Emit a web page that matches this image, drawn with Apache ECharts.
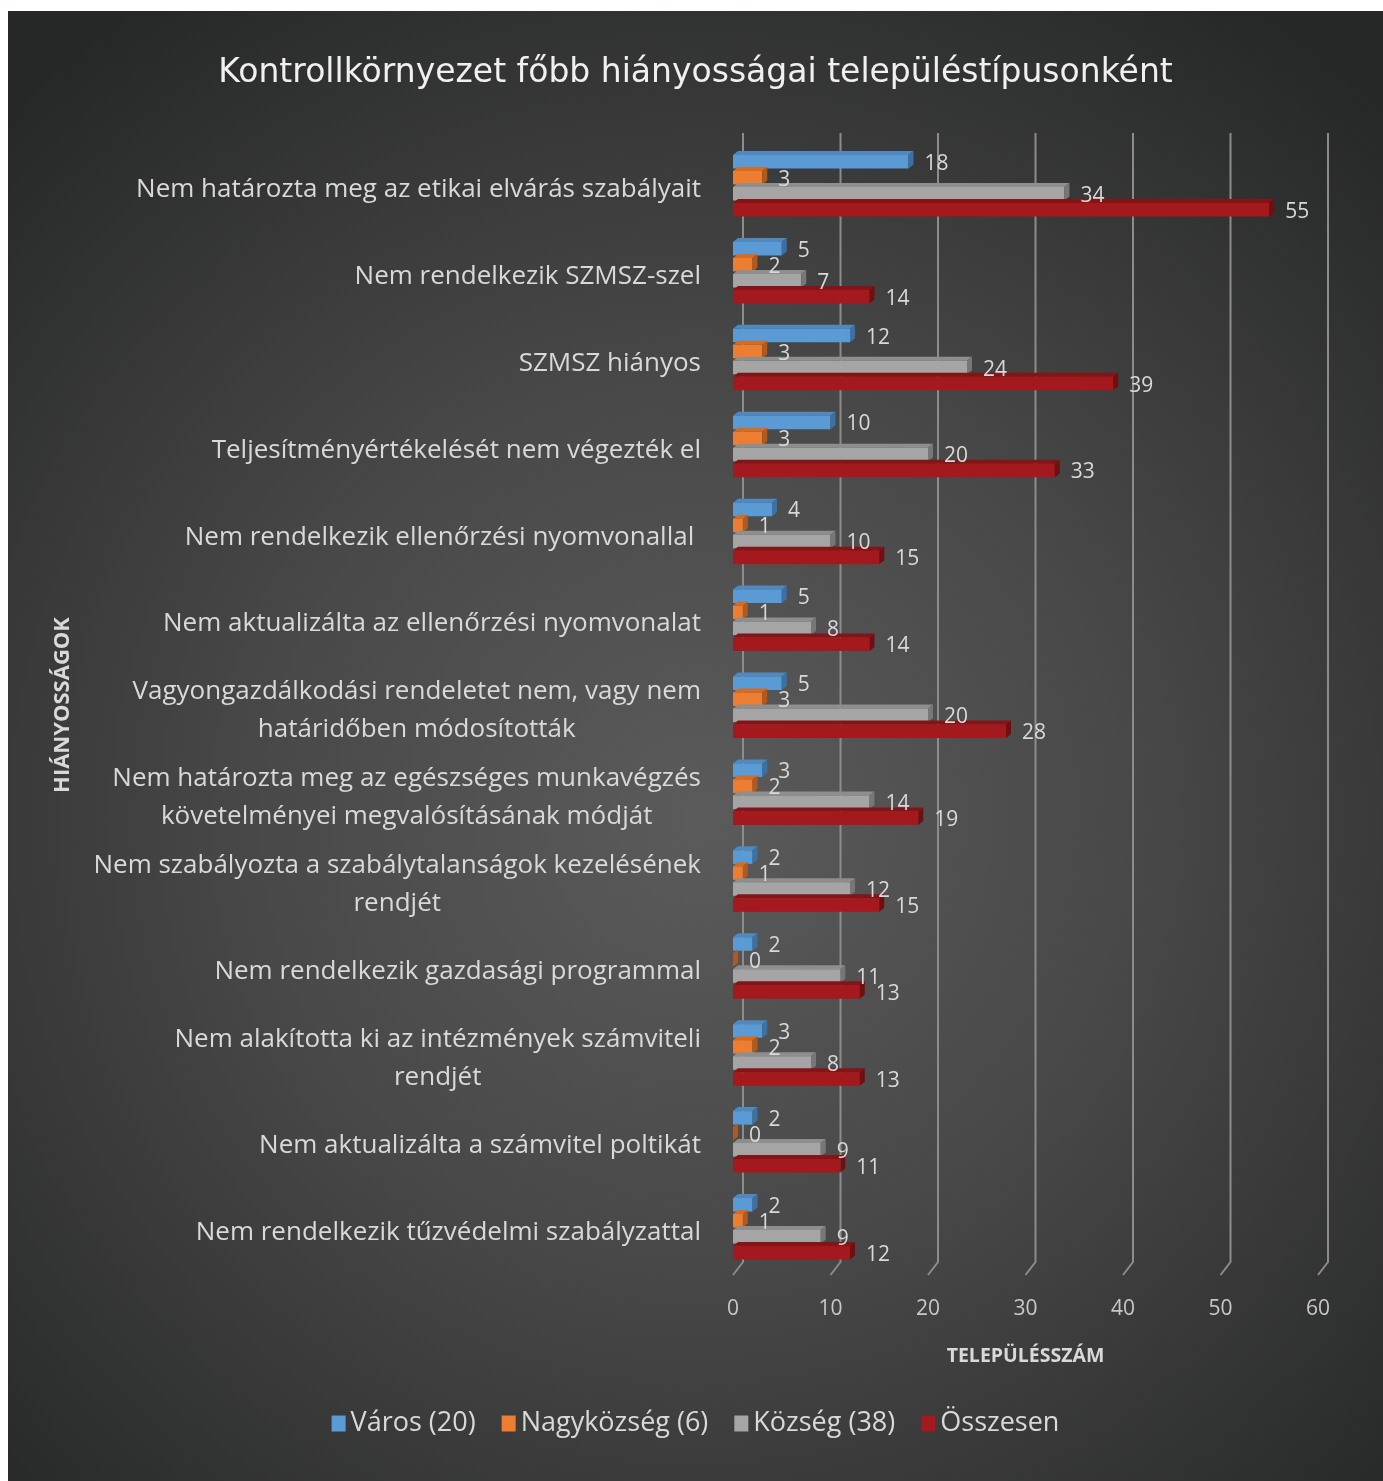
<!DOCTYPE html>
<html>
<head>
<meta charset="utf-8">
<script src="https://cdn.jsdelivr.net/npm/echarts@6/dist/echarts.min.js"></script>
<style>
  html, body { margin: 0; padding: 0; background: #ffffff; }
  #chart { position: absolute; left: 8px; top: 11px; width: 1375px; height: 1470px; }
</style>
</head>
<body>
<div id="chart"></div>
<script>
// Categories, top to bottom
const categories = [
  'Nem határozta meg az etikai elvárás szabályait',
  'Nem rendelkezik SZMSZ-szel',
  'SZMSZ hiányos',
  'Teljesítményértékelését nem végezték el',
  'Nem rendelkezik ellenőrzési nyomvonallal ',
  'Nem aktualizálta az ellenőrzési nyomvonalat',
  'Vagyongazdálkodási rendeletet nem, vagy nem\nhatáridőben módosították',
  'Nem határozta meg az egészséges munkavégzés\nkövetelményei megvalósításának módját',
  'Nem szabályozta a szabálytalanságok kezelésének\nrendjét',
  'Nem rendelkezik gazdasági programmal',
  'Nem alakította ki az intézmények számviteli\nrendjét',
  'Nem aktualizálta a számvitel poltikát',
  'Nem rendelkezik tűzvédelmi szabályzattal'
];

// Number of settlements per type
const varos      = [18, 5, 12, 10, 4, 5, 5, 3, 2, 2, 3, 2, 2];
const nagykozseg = [3, 2, 3, 3, 1, 1, 3, 2, 1, 0, 2, 0, 1];
const kozseg     = [34, 7, 24, 20, 10, 8, 20, 14, 12, 11, 8, 9, 9];
const osszesen   = [55, 14, 39, 33, 15, 14, 28, 19, 15, 13, 13, 11, 12];

const seriesNames = ['Város (20)', 'Nagyközség (6)', 'Község (38)', 'Összesen'];
const xTicks = [0, 10, 20, 30, 40, 50, 60];

const FONT = '"Open Sans", sans-serif';

// Face colours of the extruded bars: front, top, side
const faces = [
  { front: '#5b9bd5', top: '#4f89c0', side: '#3d71a3' },
  { front: '#ed7d31', top: '#d46c26', side: '#b4591c' },
  { front: '#a5a5a5', top: '#8e8e8e', side: '#777777' },
  { front: '#a3191d', top: '#861316', side: '#6e0f12' }
];

// Draws one bar of a group as a small 3D box with its value label
function barRenderer(slot, f) {
  return function (params, api) {
    const v = api.value(0);
    const ci = api.value(1);
    const start = api.coord([0, ci]);
    const end = api.coord([v, ci]);
    const pitch = 16;
    const slotTop = start[1] - 2 * pitch + slot * pitch;
    const ft = slotTop + 3.5;
    const fb = slotTop + 17;
    const x0 = start[0];
    const x1 = end[0];
    const dx = 5, dy = 4;
    return {
      type: 'group',
      children: [
        { type: 'polygon', shape: { points: [[x0, ft], [x1, ft], [x1 + dx, ft - dy], [x0 + dx, ft - dy]] }, style: { fill: f.top } },
        { type: 'rect', shape: { x: x0, y: ft, width: x1 - x0, height: fb - ft }, style: { fill: f.front } },
        { type: 'polygon', shape: { points: [[x1, ft], [x1 + dx, ft - dy], [x1 + dx, fb - dy], [x1, fb]] }, style: { fill: f.side } },
        {
          type: 'text', z2: 100, x: x1 + dx + 11, y: (ft + fb) / 2 + 2,
          style: { text: String(v), fill: '#d9d9d9', font: '21px ' + FONT, align: 'left', verticalAlign: 'middle' }
        }
      ]
    };
  };
}

// Back-wall grid lines with a short slanted foot towards the floor
function gridRenderer(params, api) {
  const cs = params.coordSys;
  const x = api.coord([api.value(0), 0])[0];
  const bottom = cs.y + cs.height;
  return {
    type: 'polyline',
    shape: { points: [[x + 10, cs.y - 7], [x + 10, bottom - 8], [x, bottom + 5]] },
    style: { stroke: '#8c8c8c', lineWidth: 2, fill: null }
  };
}

const values = [varos, nagykozseg, kozseg, osszesen];

const series = [{
  type: 'custom',
  name: '__grid',
  silent: true,
  z: 1,
  renderItem: gridRenderer,
  encode: { x: 0, y: 1 },
  data: xTicks.map(t => [t, 0])
}];

values.forEach((arr, s) => {
  series.push({
    type: 'custom',
    name: seriesNames[s],
    z: 2,
    itemStyle: { color: faces[s].front },
    renderItem: barRenderer(s, faces[s]),
    encode: { x: 0, y: 1 },
    data: arr.map((v, i) => [v, i])
  });
});

const chart = echarts.init(document.getElementById('chart'));
chart.setOption({
  backgroundColor: {
    type: 'radial', x: 0.5, y: 0.55, r: 0.72,
    colorStops: [
      { offset: 0, color: '#5b5b5b' },
      { offset: 0.45, color: '#484848' },
      { offset: 1, color: '#262727' }
    ]
  },
  animation: false,
  title: {
    text: 'Kontrollkörnyezet főbb hiányosságai településtípusonként',
    left: 'center',
    top: 41,
    textStyle: { color: '#f0f0f0', fontSize: 33, fontWeight: 'normal', fontFamily: '"DejaVu Sans", sans-serif' }
  },
  legend: {
    data: seriesNames,
    left: 'center',
    top: 1394,
    icon: 'rect',
    itemWidth: 14,
    itemHeight: 16,
    itemGap: 26,
    textStyle: { color: '#d9d9d9', fontSize: 27, fontFamily: FONT }
  },
  grid: { left: 725, top: 129, width: 585, height: 1130, containLabel: false },
  xAxis: {
    type: 'value',
    min: 0, max: 60, interval: 10,
    name: 'TELEPÜLÉSSZÁM',
    nameLocation: 'middle',
    nameGap: 76,
    nameTextStyle: { color: '#d9d9d9', fontSize: 19.5, fontWeight: 'bold', fontFamily: FONT },
    axisLine: { show: false },
    axisTick: { show: false },
    splitLine: { show: false },
    axisLabel: { color: '#c8c8c8', fontSize: 21, fontFamily: FONT, margin: 29 }
  },
  yAxis: {
    type: 'category',
    data: categories,
    inverse: true,
    name: 'HIÁNYOSSÁGOK',
    nameLocation: 'middle',
    nameGap: 659,
    nameRotate: 90,
    nameTextStyle: { color: '#d9d9d9', fontSize: 22, fontWeight: 'bold', fontFamily: FONT },
    axisLine: { show: false },
    axisTick: { show: false },
    splitLine: { show: false },
    axisLabel: {
      margin: 32,
      padding: [12, 0, 0, 0],
      formatter: v => v.split('\n').map(l => '{c|' + l + '}').join('\n'),
      rich: { c: { align: 'center', color: '#d9d9d9', fontSize: 26, fontFamily: FONT, lineHeight: 38 } }
    }
  },
  series: series
});
</script>
</body>
</html>
